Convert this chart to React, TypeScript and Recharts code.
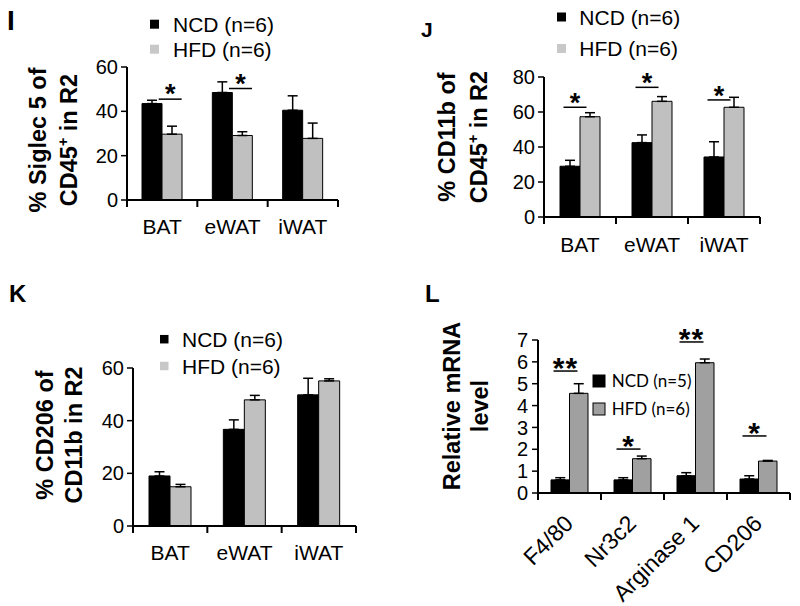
import React from 'react';
import { ComposedChart, Bar, XAxis, YAxis, ErrorBar, Scatter, Legend } from 'recharts';

const FONT = '"Liberation Sans", Arial, Helvetica, sans-serif';
const LATO = 'Lato, "Open Sans", sans-serif';

// ---------- Panel I : % Siglec 5 of CD45+ in R2 ----------
const tissues = ['BAT', 'eWAT', 'iWAT'];
const siglecNCD = [43.5, 48.5, 40.5];
const siglecNCDErr = [1.5, 4.8, 6.5];
const siglecHFD = [29.7, 29.1, 27.8];
const siglecHFDErr = [3.6, 1.7, 6.9];
const siglecSig = [45.5, 50.3, null];
const siglecSigText = ['*', '*', ''];
const siglecTicks = [0, 20, 40, 60];

// ---------- Panel J : % CD11b of CD45+ in R2 ----------
const cd11bNCD = [29.0, 42.5, 34.3];
const cd11bNCDErr = [3.4, 4.4, 8.7];
const cd11bHFD = [57.3, 66.1, 62.7];
const cd11bHFDErr = [2.3, 2.7, 5.7];
const cd11bSig = [62.7, 74.1, 66.9];
const cd11bSigText = ['*', '*', '*'];
const cd11bTicks = [0, 20, 40, 60, 80];

// ---------- Panel K : % CD206 of CD11b in R2 ----------
const cd206NCD = [19.0, 36.7, 49.8];
const cd206NCDErr = [1.6, 3.6, 6.3];
const cd206HFD = [14.9, 47.9, 55.1];
const cd206HFDErr = [0.9, 1.7, 0.8];
const cd206Sig = [null, null, null];
const cd206SigText = ['', '', ''];
const cd206Ticks = [0, 20, 40, 60];

// ---------- Panel L : Relative mRNA level ----------
const genes = ['F4/80', 'Nr3c2', 'Arginase 1', 'CD206'];
const mrnaNCD = [0.6, 0.6, 0.79, 0.64];
const mrnaNCDErr = [0.1, 0.1, 0.14, 0.15];
const mrnaHFD = [4.56, 1.57, 5.96, 1.46];
const mrnaHFDErr = [0.44, 0.12, 0.17, 0.03];
const mrnaSig = [5.58, 2.01, 6.91, 2.61];
const mrnaSigText = ['**', '*', '**', '*'];
const mrnaTicks = [0, 1, 2, 3, 4, 5, 6, 7];

const ncdName6 = 'NCD (n=6)';
const hfdName6 = 'HFD (n=6)';
const ncdName5 = 'NCD (n=5)';
const seriesOrder = ['ncd', 'hfd'];

function buildRows(cats, ncd, ncdErr, hfd, hfdErr, sig, sigText) {
  return cats.map((name, i) => ({
    name,
    ncd: ncd[i],
    ncdErr: [0, ncdErr[i]],
    hfd: hfd[i],
    hfdErr: [0, hfdErr[i]],
    sig: sig[i],
    sigText: sigText[i],
  }));
}

const makeLegend = (cfg) => (props) => {
  const items = (props.payload || [])
    .filter((p) => p.type !== 'none' && seriesOrder.indexOf(p.dataKey) >= 0)
    .slice()
    .sort((a, b) => seriesOrder.indexOf(a.dataKey) - seriesOrder.indexOf(b.dataKey));
  return (
    <svg width={cfg.w} height={cfg.h} style={{ overflow: 'visible', display: 'block' }}>
      {items.map((it, i) => {
        const c = cfg.centers[i];
        return (
          <g key={i}>
            <rect
              x={0}
              y={c - cfg.sq / 2}
              width={cfg.sq}
              height={cfg.sq}
              fill={cfg.swatch ? cfg.swatch[i] : it.color}
              stroke={cfg.swStroke ? '#000' : 'none'}
              strokeWidth={1}
            />
            <text x={cfg.textX} y={c + cfg.capHalf} fontFamily={cfg.font} fontSize={cfg.fontSize} fill="#000">
              {it.value}
            </text>
          </g>
        );
      })}
    </svg>
  );
};

const makeYLabel = (cfg) => (props) => {
  const vb = props.viewBox || {};
  const axisX = (vb.x || 0) + (vb.width || 0);
  const cy = (vb.y || 0) + (vb.height || 0) / 2 + cfg.dy;
  const x1 = axisX + cfg.dx1;
  const x2 = axisX + cfg.dx2;
  return (
    <g>
      <text
        x={x1}
        y={cy}
        transform={`rotate(-90 ${x1} ${cy})`}
        textAnchor="middle"
        fontFamily={FONT}
        fontWeight="bold"
        fontSize={cfg.fontSize}
        fill="#000"
      >
        {cfg.line1}
      </text>
      <text
        x={x2}
        y={cy}
        transform={`rotate(-90 ${x2} ${cy})`}
        textAnchor="middle"
        fontFamily={FONT}
        fontWeight="bold"
        fontSize={cfg.fontSize}
        fill="#000"
      >
        {cfg.line2.map((seg, i) =>
          seg.sup ? (
            <tspan key={i} fontSize={cfg.fontSize * 0.6} dy={-9}>
              {seg.t}
            </tspan>
          ) : (
            <tspan key={i} dy={i > 0 && cfg.line2[i - 1].sup ? 9 : 0}>
              {seg.t}
            </tspan>
          )
        )}
      </text>
    </g>
  );
};

const makeXTick = (cfg) => (props) => {
  const { x, y, payload, width, visibleTicksCount, index } = props;
  const half =
    payload && payload.offset ? payload.offset : width && visibleTicksCount ? width / visibleTicksCount / 2 : 0;
  const last = index === visibleTicksCount - 1;
  const rx = x + (cfg.rdx || 0);
  const ry = y + (cfg.rdy || 0);
  return (
    <g>
      <line x1={x - half} x2={x - half} y1={y} y2={y + 7} stroke="#000" strokeWidth={2} />
      {last ? <line x1={x + half} x2={x + half} y1={y} y2={y + 7} stroke="#000" strokeWidth={2} /> : null}
      {cfg.rotate ? (
        <text
          x={rx}
          y={ry}
          transform={`rotate(-45 ${rx} ${ry})`}
          textAnchor="end"
          fontFamily={FONT}
          fontSize={cfg.fontSize}
          fill="#000"
        >
          {payload.value}
        </text>
      ) : (
        <text x={x} y={y + cfg.labelDy} textAnchor="middle" fontFamily={FONT} fontSize={cfg.fontSize} fill="#000">
          {payload.value}
        </text>
      )}
    </g>
  );
};

const makeSig = (cfg) => (props) => {
  const { cx, cy, payload } = props;
  if (!payload || !payload.sigText || !isFinite(cx) || !isFinite(cy)) return <g />;
  return (
    <g>
      <line x1={cx + cfg.x1} x2={cx + cfg.x2} y1={cy} y2={cy} stroke="#000" strokeWidth={1.5} />
      <text
        x={cx + cfg.star}
        y={cy + cfg.starDy}
        textAnchor="middle"
        fontFamily={FONT}
        fontWeight="bold"
        fontSize={cfg.starSize}
        letterSpacing={cfg.spacing || 0}
        fill="#000"
      >
        {payload.sigText}
      </text>
    </g>
  );
};

function Panel(p) {
  return (
    <div style={{ position: 'absolute', left: p.left, top: p.top }}>
      <ComposedChart width={p.width} height={p.height} data={p.data} margin={p.margin} barGap={0}>
        <XAxis
          dataKey="name"
          type="category"
          height={40}
          axisLine={{ stroke: '#000', strokeWidth: 2 }}
          tickLine={false}
          tickSize={0}
          tickMargin={0}
          interval={0}
          tick={makeXTick(p.xTick)}
        />
        <YAxis
          type="number"
          width={60}
          domain={p.domain}
          ticks={p.ticks}
          interval={0}
          axisLine={{ stroke: '#000', strokeWidth: 2 }}
          tickLine={{ stroke: '#000', strokeWidth: 1.5 }}
          tickSize={6}
          tickMargin={p.tickMargin || 3}
          tick={{ fontFamily: FONT, fontSize: 20, fill: '#000' }}
          label={{ content: makeYLabel(p.yLabel) }}
        />
        <Legend
          layout="vertical"
          align="center"
          verticalAlign="middle"
          wrapperStyle={{ left: p.legend.left, top: p.legend.top, width: 'auto', height: 'auto' }}
          content={makeLegend(p.legend)}
        />
        <Bar
          dataKey="ncd"
          name={p.ncdName}
          fill="#000"
          stroke="#000"
          strokeWidth={1}
          barSize={p.barSize}
          isAnimationActive={false}
        >
          <ErrorBar dataKey="ncdErr" width={5} stroke="#000" strokeWidth={1.5} direction="y" isAnimationActive={false} />
        </Bar>
        <Bar
          dataKey="hfd"
          name={p.hfdName}
          fill={p.hfdColor}
          stroke="#000"
          strokeWidth={1}
          barSize={p.barSize}
          isAnimationActive={false}
        >
          <ErrorBar dataKey="hfdErr" width={5} stroke="#000" strokeWidth={1.5} direction="y" isAnimationActive={false} />
        </Bar>
        {p.sig ? (
          <Scatter dataKey="sig" legendType="none" isAnimationActive={false} shape={makeSig(p.sig)} />
        ) : null}
      </ComposedChart>
    </div>
  );
}

const dataI = buildRows(tissues, siglecNCD, siglecNCDErr, siglecHFD, siglecHFDErr, siglecSig, siglecSigText);
const dataJ = buildRows(tissues, cd11bNCD, cd11bNCDErr, cd11bHFD, cd11bHFDErr, cd11bSig, cd11bSigText);
const dataK = buildRows(tissues, cd206NCD, cd206NCDErr, cd206HFD, cd206HFDErr, cd206Sig, cd206SigText);
const dataL = buildRows(genes, mrnaNCD, mrnaNCDErr, mrnaHFD, mrnaHFDErr, mrnaSig, mrnaSigText);

export default function App() {
  return (
    <div
      style={{
        position: 'absolute',
        left: 0,
        top: 0,
        width: 800,
        height: 606,
        background: '#fff',
        overflow: 'hidden',
      }}
    >
      <svg width={800} height={606} style={{ position: 'absolute', left: 0, top: 0 }}>
        <text x={7} y={30} fontFamily={FONT} fontWeight="bold" fontSize={28} fill="#000">I</text>
        <text x={421} y={37} fontFamily={FONT} fontWeight="bold" fontSize={21} fill="#000">J</text>
        <text x={9} y={302} fontFamily={FONT} fontWeight="bold" fontSize={24} fill="#000">K</text>
        <text x={425} y={302} fontFamily={FONT} fontWeight="bold" fontSize={24} fill="#000">L</text>
      </svg>

      <Panel
        left={0}
        top={0}
        width={400}
        height={300}
        margin={{ top: 67, right: 62, bottom: 60, left: 67 }}
        data={dataI}
        domain={[0, 60]}
        ticks={siglecTicks}
        barSize={20}
        hfdColor="#c0c0c0"
        ncdName={ncdName6}
        hfdName={hfdName6}
        legend={{ left: 150, top: 0, w: 140, h: 70, sq: 9, textX: 23, centers: [24.2, 49.2], font: FONT, fontSize: 21, capHalf: 7.5, swatch: ['#000', '#c8c8c8'] }}
        yLabel={{ line1: '% Siglec 5 of', line2: [{ t: 'CD45' }, { t: '+', sup: true }, { t: ' in R2' }], dx1: -81, dx2: -50, dy: 6.5, fontSize: 23.5 }}
        xTick={{ labelDy: 34, fontSize: 21 }}
        sig={{ x1: -3.5, x2: 19.5, star: 8, starDy: 4, starSize: 27 }}
      />

      <Panel
        left={400}
        top={0}
        width={400}
        height={300}
        margin={{ top: 77, right: 40, bottom: 43, left: 84 }}
        data={dataJ}
        domain={[0, 80]}
        ticks={cd11bTicks}
        barSize={20}
        hfdColor="#c0c0c0"
        ncdName={ncdName6}
        hfdName={hfdName6}
        legend={{ left: 156.7, top: 0, w: 140, h: 70, sq: 9, textX: 22.3, centers: [17, 48.5], font: FONT, fontSize: 21, capHalf: 7.5, swatch: ['#000', '#c8c8c8'] }}
        yLabel={{ line1: '% CD11b of', line2: [{ t: 'CD45' }, { t: '+', sup: true }, { t: ' in R2' }], dx1: -89, dx2: -57, dy: -10, fontSize: 23.5 }}
        xTick={{ labelDy: 35, fontSize: 21 }}
        sig={{ x1: -16.5, x2: 6.5, star: -5, starDy: 5, starSize: 27 }}
      />

      <Panel
        left={0}
        top={300}
        width={400}
        height={306}
        margin={{ top: 68, right: 44, bottom: 40, left: 73 }}
        data={dataK}
        domain={[0, 60]}
        ticks={cd206Ticks}
        barSize={21}
        hfdColor="#c0c0c0"
        ncdName={ncdName6}
        hfdName={hfdName6}
        legend={{ left: 160, top: 0, w: 140, h: 80, sq: 8.5, textX: 22, centers: [39.2, 66], font: FONT, fontSize: 21, capHalf: 7.5, swatch: ['#000', '#c8c8c8'] }}
        yLabel={{ line1: '% CD206 of', line2: [{ t: 'CD11b in R2' }], dx1: -80, dx2: -51, dy: -12, fontSize: 23.5 }}
        xTick={{ labelDy: 34, fontSize: 21 }}
        sig={null}
      />

      <Panel
        left={400}
        top={300}
        width={400}
        height={306}
        margin={{ top: 40, right: 10, bottom: 73, left: 78 }}
        data={dataL}
        domain={[0, 7]}
        ticks={mrnaTicks}
        tickMargin={4}
        barSize={18.5}
        hfdColor="#a0a0a0"
        ncdName={ncdName5}
        hfdName={hfdName6}
        legend={{ left: 193, top: 0, w: 120, h: 130, sq: 12, textX: 18.7, centers: [81, 109], font: LATO, fontSize: 17, capHalf: 6.1, swStroke: true, swatch: ['#000', '#a0a0a0'] }}
        yLabel={{ line1: 'Relative mRNA', line2: [{ t: 'level' }], dx1: -78, dx2: -50, dy: -10.5, fontSize: 23.5 }}
        xTick={{ rotate: true, rdx: 5, rdy: 32, fontSize: 23 }}
        sig={{ x1: -16, x2: 8, star: -4, starDy: 7, starSize: 30, spacing: 1 }}
      />
    </div>
  );
}
